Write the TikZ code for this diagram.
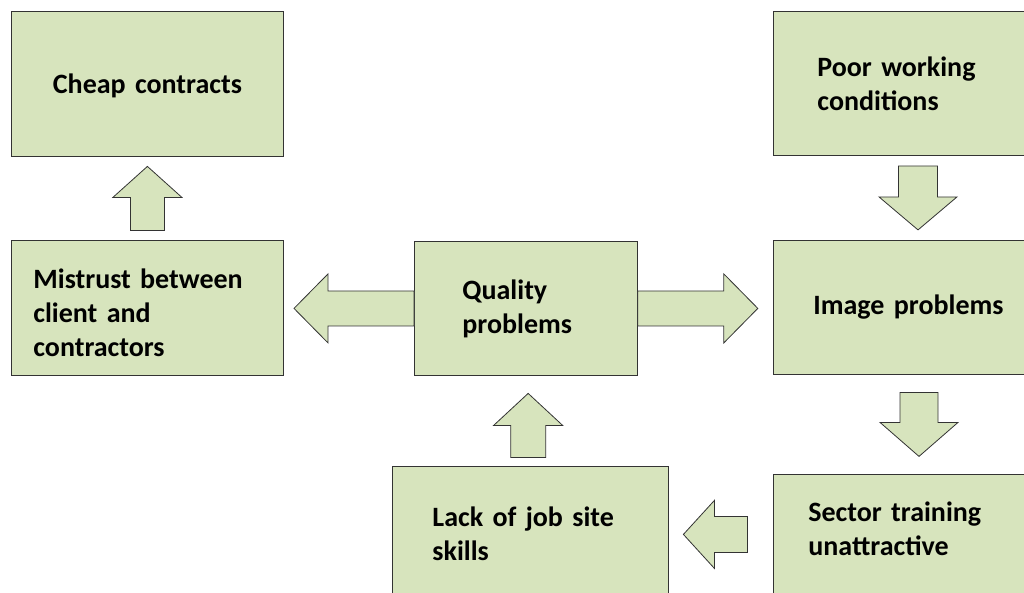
\documentclass[tikz,border=0pt]{standalone}
\usepackage{fontspec}
\setmainfont{Carlito}
\usepackage{tikz}
\usetikzlibrary{calc}

\definecolor{boxgreen}{HTML}{D7E4BD}
\definecolor{edgegray}{HTML}{333333}

% block arrow: centre, angle, length, shaft width, head width, head length
\newcommand{\blockarrow}[6]{%
  \begin{scope}[shift={#1}, rotate=#2]
    \draw[arrowbody] (-#3/2,-#4/2) -- ({#3/2-#6},-#4/2) -- ({#3/2-#6},-#5/2) -- (#3/2,0)
      -- ({#3/2-#6},#5/2) -- ({#3/2-#6},#4/2) -- (-#3/2,#4/2) -- cycle;
  \end{scope}}

\begin{document}
\begin{tikzpicture}[x=1pt, y=-1pt,
    box/.style={draw=edgegray, fill=boxgreen, line width=0.8pt, anchor=north west,
      inner ysep=0pt, align=left, font=\fontsize{28}{34}\selectfont\bfseries},
    arrowbody/.style={draw=edgegray, fill=boxgreen, line width=0.8pt, line join=miter}]
    \useasboundingbox (0,0) rectangle (1024,592);
    \clip (0,0) rectangle (1024,592);
    % Boxes
    \node at (11,11) [box, align=center, text width=232pt, inner xsep=20pt, minimum height=145pt,
      text height=20pt, text depth=1pt] (cheap) {Cheap contracts};
    \node at (773,11) [box, text width=199pt, inner xsep=44pt, minimum height=144pt] (poor) {Poor working\\conditions};
    \node at (11,240) [box, text width=228pt, inner xsep=22pt, minimum height=135pt,
      text height=10pt, text depth=49pt] (mistrust) {Mistrust between\\client and\\contractors};
    \node at (414,241) [box, text width=127pt, inner xsep=48pt, minimum height=134pt] (quality) {Quality\\problems};
    \node at (773,240) [box, text width=207pt, inner xsep=40pt, minimum height=134pt] (image) {Image problems};
    \node at (392,466) [box, text width=196pt, inner xsep=40pt, minimum height=134pt] (lack) {Lack of job site\\skills};
    \node at (773,474) [box, text width=217pt, inner xsep=35pt, minimum height=126pt,
      text height=10pt, text depth=42pt] (sector) {Sector training\\unattractive};
    % Arrows
    \blockarrow{($(mistrust.north)!0.5!(cheap.south)$)}{90}{64}{34}{69}{31}
    \blockarrow{($(poor.south west)!0.5!(image.north west)+(145,0)$)}{-90}{64}{39}{78}{33}
    \blockarrow{($(image.south west)!0.5!(sector.north west)+(146,0)$)}{-90}{64}{38}{78}{34}
    \blockarrow{($(quality.south)!0.5!(lack.north)+(0,4.5)$)}{90}{64}{35}{69}{32}
    \blockarrow{($(lack.east)!0.5!(sector.west)+(-5.5,-1)$)}{180}{64}{36}{68}{31}
    \blockarrow{($(quality.west)+(-60,0)$)}{180}{120}{35}{69}{34}
    \blockarrow{($(quality.east)+(60,0)$)}{0}{120}{35}{69}{34}
\end{tikzpicture}
\end{document}
